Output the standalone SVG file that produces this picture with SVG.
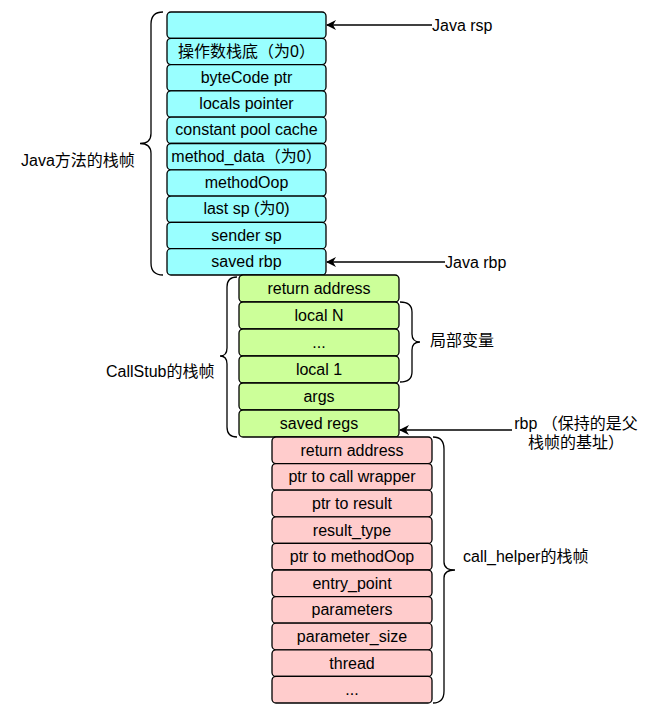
<svg xmlns="http://www.w3.org/2000/svg" width="651" height="713" viewBox="0 0 651 713">
<defs>
<marker id="arr" viewBox="0 0 10 10" refX="9" refY="5" markerWidth="10" markerHeight="10" markerUnits="userSpaceOnUse" orient="auto">
<path d="M0,0 L10,5 L0,10 L3,5 z" fill="#000"/>
</marker>
<style>
.t{font-family:"Liberation Sans","Noto Sans CJK SC",sans-serif;font-size:16px;fill:#000;}
.c{text-anchor:middle;}
.cy rect{fill:#99FFFF;stroke:#000;stroke-width:1.3;}
.gr rect{fill:#CCFF99;stroke:#000;stroke-width:1.3;}
.pk rect{fill:#FFCCCC;stroke:#000;stroke-width:1.3;}
.br{fill:none;stroke:#000;stroke-width:1.3;}
.ln{fill:none;stroke:#000;stroke-width:1.3;marker-end:url(#arr);}
</style>
</defs>
<rect width="651" height="713" fill="#fff"/>

<g id="java-frame" class="cy">
<rect x="167" y="12" width="159" height="26.3" rx="4"/>
<rect x="167" y="38.3" width="159" height="26.3" rx="4"/>
<rect x="167" y="64.6" width="159" height="26.3" rx="4"/>
<rect x="167" y="90.9" width="159" height="26.3" rx="4"/>
<rect x="167" y="117.2" width="159" height="26.3" rx="4"/>
<rect x="167" y="143.5" width="159" height="26.3" rx="4"/>
<rect x="167" y="169.8" width="159" height="26.3" rx="4"/>
<rect x="167" y="196.1" width="159" height="26.3" rx="4"/>
<rect x="167" y="222.4" width="159" height="26.3" rx="4"/>
<rect x="167" y="248.7" width="159" height="26.3" rx="4"/>
<text class="t c" x="246.5" y="56.5">操作数栈底（为0）</text>
<text class="t c" x="246.5" y="82.8">byteCode ptr</text>
<text class="t c" x="246.5" y="109.1">locals pointer</text>
<text class="t c" x="246.5" y="135.4">constant pool cache</text>
<text class="t c" x="246.5" y="161.7">method_data（为0）</text>
<text class="t c" x="246.5" y="188">methodOop</text>
<text class="t c" x="246.5" y="214.3">last sp (为0)</text>
<text class="t c" x="246.5" y="240.6">sender sp</text>
<text class="t c" x="246.5" y="266.9">saved rbp</text>
</g>

<g id="callstub-frame" class="gr">
<rect x="239" y="275" width="160" height="27" rx="4"/>
<rect x="239" y="302" width="160" height="27" rx="4"/>
<rect x="239" y="329" width="160" height="27" rx="4"/>
<rect x="239" y="356" width="160" height="27" rx="4"/>
<rect x="239" y="383" width="160" height="27" rx="4"/>
<rect x="239" y="410" width="160" height="27" rx="4"/>
<text class="t c" x="319" y="294">return address</text>
<text class="t c" x="319" y="321">local N</text>
<text class="t c" x="319" y="348">...</text>
<text class="t c" x="319" y="375">local 1</text>
<text class="t c" x="319" y="402">args</text>
<text class="t c" x="319" y="429">saved regs</text>
</g>

<g id="call-helper-frame" class="pk">
<rect x="272" y="437" width="160" height="26.6" rx="4"/>
<rect x="272" y="463.6" width="160" height="26.6" rx="4"/>
<rect x="272" y="490.2" width="160" height="26.6" rx="4"/>
<rect x="272" y="516.8" width="160" height="26.6" rx="4"/>
<rect x="272" y="543.4" width="160" height="26.6" rx="4"/>
<rect x="272" y="570" width="160" height="26.6" rx="4"/>
<rect x="272" y="596.6" width="160" height="26.6" rx="4"/>
<rect x="272" y="623.2" width="160" height="26.6" rx="4"/>
<rect x="272" y="649.8" width="160" height="26.6" rx="4"/>
<rect x="272" y="676.4" width="160" height="26.6" rx="4"/>
<text class="t c" x="352" y="455.8">return address</text>
<text class="t c" x="352" y="482.4">ptr to call wrapper</text>
<text class="t c" x="352" y="509">ptr to result</text>
<text class="t c" x="352" y="535.6">result_type</text>
<text class="t c" x="352" y="562.2">ptr to methodOop</text>
<text class="t c" x="352" y="588.8">entry_point</text>
<text class="t c" x="352" y="615.4">parameters</text>
<text class="t c" x="352" y="642">parameter_size</text>
<text class="t c" x="352" y="668.6">thread</text>
<text class="t c" x="352" y="695.2">...</text>
</g>

<g id="braces">
<path class="br" d="M163,12 Q151,12 151,24 L151,133.5 Q151,143.5 140,143.5 Q151,143.5 151,153.5 L151,263 Q151,275 163,275"/>
<path class="br" d="M237,277 Q227,277 227,287 L227,348 Q227,356 220,356 Q227,356 227,364 L227,427 Q227,437 237,437"/>
<path class="br" d="M400,302 Q412,302 412,312 L412,334 Q412,342 420,342 Q412,342 412,350 L412,372 Q412,382 400,382"/>
<path class="br" d="M433,437 Q444,437 444,449 L444,562 Q444,570 455,570 Q444,570 444,578 L444,691 Q444,703 433,703"/>
</g>

<g id="connectors">
<line class="ln" x1="432" y1="25" x2="327" y2="25"/>
<line class="ln" x1="445" y1="262" x2="327" y2="262"/>
<line class="ln" x1="512" y1="430" x2="400" y2="430"/>
</g>

<g id="labels">
<text class="t" x="432" y="31">Java rsp</text>
<text class="t" x="445" y="268">Java rbp</text>
<text class="t" x="21" y="165.5">Java方法的栈帧</text>
<text class="t" x="106" y="376.5">CallStub的栈帧</text>
<text class="t" x="430" y="345.5">局部变量</text>
<text class="t" x="463" y="561.5">call_helper的栈帧</text>
<text class="t c" x="576" y="428.5">rbp （保持的是父</text>
<text class="t c" x="576" y="447.5">栈帧的基址）</text>
</g>
</svg>
